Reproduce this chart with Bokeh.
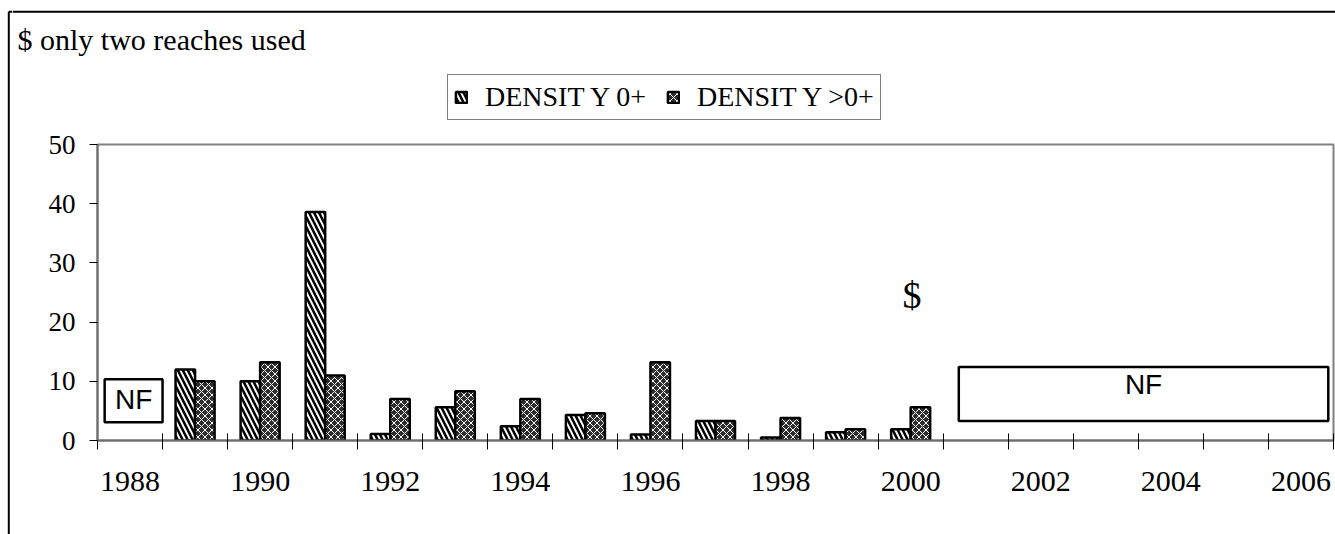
from bokeh.plotting import figure
from bokeh.layouts import row, column
from bokeh.models import (Range1d, FixedTicker, Legend, LegendItem, Label,
                          ColumnDataSource)
from bokeh.transform import dodge
from bokeh.embed import file_html
from bokeh.resources import INLINE

# ---- data ----
years = [1989, 1990, 1991, 1992, 1993, 1994, 1995, 1996, 1997, 1998, 1999, 2000]
density_0 = [12.0, 10.0, 38.6, 1.1, 5.6, 2.4, 4.3, 1.0, 3.3, 0.5, 1.4, 1.9]
density_gt0 = [10.0, 13.2, 11.0, 7.0, 8.3, 7.0, 4.6, 13.2, 3.3, 3.8, 1.9, 5.6]
tick_years = [1988, 1990, 1992, 1994, 1996, 1998, 2000, 2002, 2004, 2006]
tick_labels = [str(y) for y in tick_years]
y_ticks = [0, 10, 20, 30, 40, 50]
series_labels = ["DENSIT Y 0+", "DENSIT Y >0+"]
title_text = "$ only two reaches used"
# "not fished" boxes (data coords)
nf_left = [1987.61, 2000.74]
nf_right = [1988.50, 2006.42]
nf_bottom = [3.1, 3.3]
nf_top = [10.35, 12.4]
nf_text_y = [6.98, 9.4]

style0 = dict(fill_color="white", hatch_pattern="\\", hatch_color="black",
              hatch_scale=10, hatch_weight=2.5, line_color="black", line_width=2.5)
style1 = dict(fill_color="#2e2e2e", hatch_pattern="x", hatch_color="white",
              hatch_scale=7, hatch_weight=1.0, line_color="black", line_width=2.5)

src = ColumnDataSource(dict(year=years, d0=density_0, d1=density_gt0))


def blank(w, h):
    f = figure(width=w, height=h, x_range=Range1d(0, w), y_range=Range1d(0, h),
               output_backend="svg", toolbar_location=None,
               x_axis_location=None, y_axis_location=None,
               min_border=0, frame_align=False)
    f.grid.visible = False
    f.outline_line_color = None
    f.background_fill_color = "white"
    f.border_fill_color = "white"
    return f


LW, TOPH, MAINW = 12, 125, 1323
MAINH = 534 - TOPH

# ---- left strip (outer frame, left side) ----
pl = blank(LW, 534)
pl.segment(x0=[8.3, 8.3], y0=[0, 534 - 11.3],
           x1=[8.3, LW], y1=[534 - 11.3, 534 - 11.3],
           line_color="black", line_width=2)

# ---- top strip (outer frame top, title, legend) ----
ph = blank(MAINW, TOPH)
ph.segment(x0=[0], y0=[TOPH - 11.3], x1=[MAINW], y1=[TOPH - 11.3],
           line_color="black", line_width=2)
ph.add_layout(Label(x=5, y=TOPH - 39, text=title_text,
                    text_font="Liberation Serif", text_font_size="30px",
                    text_align="left", text_baseline="alphabetic", text_color="black"))
# legend-only renderers (no visible marks: NaN placeholders)
nan = float("nan")
legend_src = ColumnDataSource(dict(x=[nan], top=[nan]))
l0 = ph.vbar(x="x", top="top", width=1, source=legend_src, **style0)
l1 = ph.vbar(x="x", top="top", width=1, source=legend_src, **style1)
legend = Legend(items=[LegendItem(label=series_labels[0], renderers=[l0]),
                       LegendItem(label=series_labels[1], renderers=[l1])],
                orientation="horizontal", location=(435, TOPH - 120),
                border_line_color="black", border_line_width=1.5,
                background_fill_color="white", background_fill_alpha=1,
                label_text_font="Liberation Serif", label_text_font_size="28px",
                label_text_color="black",
                glyph_width=14, glyph_height=14, padding=6, spacing=20,
                label_standoff=17, margin=0)
ph.add_layout(legend)

# ---- main chart ----
p = figure(width=MAINW, height=MAINH,
           x_range=Range1d(1987.5, 2006.5), y_range=Range1d(0, 50),
           output_backend="svg", toolbar_location=None,
           min_border_left=85, min_border_right=2,
           min_border_top=144 - TOPH, min_border_bottom=MAINH - (144 - TOPH) - 296)
p.grid.visible = False
p.outline_line_color = "#808080"
p.outline_line_width = 2
p.background_fill_color = "white"
p.border_fill_color = "white"

p.quad(left=nf_left, right=nf_right, bottom=nf_bottom, top=nf_top,
       fill_color="white", line_color="black", line_width=2.5)
for i in range(len(nf_left)):
    p.add_layout(Label(x=(nf_left[i] + nf_right[i]) / 2, y=nf_text_y[i], text="NF",
                       text_font="Liberation Sans", text_font_size="28px",
                       text_align="center", text_baseline="middle", text_color="black"))

p.vbar(x=dodge("year", -0.15), top="d0", width=0.3, source=src, **style0)
p.vbar(x=dodge("year", 0.15), top="d1", width=0.3, source=src, **style1)

xa = p.xaxis[0]
xa.ticker = FixedTicker(ticks=tick_years,
                        minor_ticks=[1987.5 + i for i in range(20)])
xa.major_label_overrides = {y: l for y, l in zip(tick_years, tick_labels)}
xa.axis_line_color = "#6e6e6e"
xa.axis_line_width = 2
xa.major_tick_line_color = None
xa.major_tick_out = 9
xa.major_tick_in = 0
xa.minor_tick_in = 7
xa.minor_tick_out = 9
xa.minor_tick_line_color = "black"
xa.minor_tick_line_width = 1
xa.major_label_standoff = 22
xa.major_label_text_font = "Liberation Serif"
xa.major_label_text_font_size = "30px"
xa.major_label_text_color = "black"

ya = p.yaxis[0]
ya.ticker = FixedTicker(ticks=y_ticks)
ya.axis_line_color = "#6e6e6e"
ya.axis_line_width = 2
ya.major_tick_out = 8
ya.major_tick_in = 0
ya.major_tick_line_color = "black"
ya.minor_tick_line_color = None
ya.major_label_standoff = 14
ya.major_label_text_font = "Liberation Serif"
ya.major_label_text_font_size = "27px"
ya.major_label_text_color = "black"

p.add_layout(Label(x=2000.02, y=24.5, text="$",
                   text_font="Liberation Serif", text_font_size="38px",
                   text_align="center", text_baseline="middle", text_color="black"))

layout = row(pl, column(ph, p, spacing=0), spacing=0)
open("out.html", "w").write(file_html(layout, INLINE))
